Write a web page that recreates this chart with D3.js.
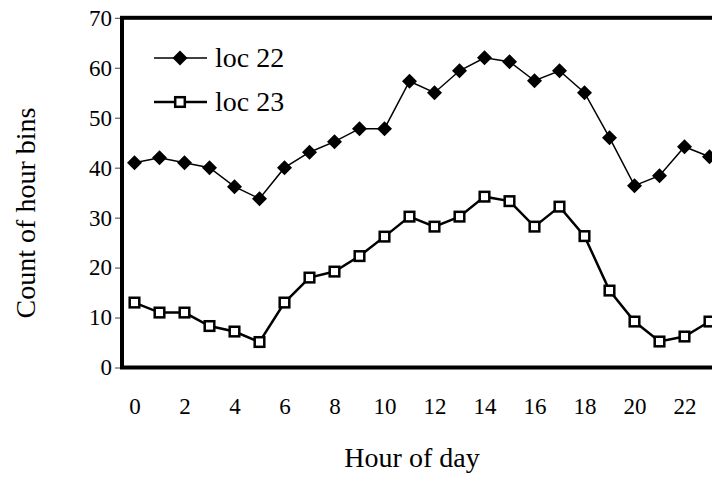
<!DOCTYPE html>
<html>
<head>
<meta charset="utf-8">
<script src="https://cdn.jsdelivr.net/npm/d3@7"></script>
<style>
  html, body { margin: 0; padding: 0; background: #fff; }
  svg { display: block; }
  svg text { font-family: "Liberation Serif", "Times New Roman", serif; fill: #000; }
</style>
</head>
<body>
<svg id="chart" width="712" height="484"></svg>
<script>
const hours = d3.range(0, 24);
const loc22 = [41, 42, 41, 40, 36.2, 33.8, 40, 43.1, 45.2, 47.8, 47.8, 57.3, 55, 59.4, 62, 61.2, 57.4, 59.4, 55, 46, 36.4, 38.4, 44.2, 42.2];
const loc23 = [13, 11, 11, 8.3, 7.2, 5.1, 13, 18, 19.2, 22.3, 26.2, 30.2, 28.2, 30.2, 34.2, 33.3, 28.2, 32.2, 26.3, 15.4, 9.2, 5.2, 6.2, 9.2];
const yTicks = [0, 10, 20, 30, 40, 50, 60, 70];
const xTicks = [0, 2, 4, 6, 8, 10, 12, 14, 16, 18, 20, 22];
const seriesNames = ["loc 22", "loc 23"];

const svg = d3.select("#chart");
const x = d3.scaleLinear().domain([-0.5, 23.5]).range([122, 722]);
const y = d3.scaleLinear().domain([0, 70]).range([367.5, 17.8]);

// y axis ticks and labels
const yAxis = d3.axisLeft(y).tickValues(yTicks).tickSize(7).tickPadding(3).tickFormat(d3.format("d"));
const gy = svg.append("g").attr("transform", `translate(${x(-0.5)},0)`).call(yAxis)
  .attr("font-family", null).attr("font-size", 23);
gy.select(".domain").remove();
gy.selectAll(".tick line").attr("stroke", "#444").attr("stroke-width", 1);

// x axis labels
const xAxis = d3.axisBottom(x).tickValues(xTicks).tickSize(0).tickPadding(30).tickFormat(d3.format("d"));
const gx = svg.append("g").attr("transform", `translate(0,${y(0)})`).call(xAxis)
  .attr("font-family", null).attr("font-size", 23);
gx.select(".domain").remove();

// frame
svg.append("rect")
  .attr("x", x(-0.5)).attr("y", y(70))
  .attr("width", x(23.5) - x(-0.5)).attr("height", y(0) - y(70))
  .attr("fill", "none").attr("stroke", "#000").attr("stroke-width", 4);

// axis titles
svg.append("text").attr("x", 412).attr("y", 467).attr("text-anchor", "middle")
  .attr("font-size", 28).text("Hour of day");
svg.append("text").attr("transform", "translate(35,213) rotate(-90)").attr("text-anchor", "middle")
  .attr("font-size", 28).text("Count of hour bins");

const line = d3.line().x((d, i) => x(hours[i])).y(d => y(d));
const diamond = s => `M0,${-s}L${s},0L0,${s}L${-s},0Z`;

// loc 22
svg.append("path").datum(loc22).attr("d", line).attr("fill", "none").attr("stroke", "#000").attr("stroke-width", 1.5);
svg.append("g").selectAll("path").data(loc22).join("path")
  .attr("transform", (d, i) => `translate(${x(hours[i])},${y(d)})`)
  .attr("d", diamond(7.5)).attr("fill", "#000");

// loc 23
svg.append("path").datum(loc23).attr("d", line).attr("fill", "none").attr("stroke", "#000").attr("stroke-width", 2.5);
svg.append("g").selectAll("rect").data(loc23).join("rect")
  .attr("x", (d, i) => x(hours[i]) - 4.8).attr("y", d => y(d) - 4.8)
  .attr("width", 9.6).attr("height", 9.6)
  .attr("fill", "#fff").attr("stroke", "#000").attr("stroke-width", 2.5);

// legend
const lg = svg.append("g");
lg.append("line").attr("x1", 154).attr("x2", 207).attr("y1", 58).attr("y2", 58).attr("stroke", "#000").attr("stroke-width", 1.5);
lg.append("path").attr("transform", "translate(180,58)").attr("d", diamond(7.5)).attr("fill", "#000");
lg.append("text").attr("x", 215).attr("y", 67).attr("font-size", 28).text(seriesNames[0]);
lg.append("line").attr("x1", 154).attr("x2", 207).attr("y1", 102).attr("y2", 102).attr("stroke", "#000").attr("stroke-width", 2.5);
lg.append("rect").attr("x", 175.2).attr("y", 97.2).attr("width", 9.6).attr("height", 9.6)
  .attr("fill", "#fff").attr("stroke", "#000").attr("stroke-width", 2.5);
lg.append("text").attr("x", 215).attr("y", 111).attr("font-size", 28).text(seriesNames[1]);
</script>
</body>
</html>
